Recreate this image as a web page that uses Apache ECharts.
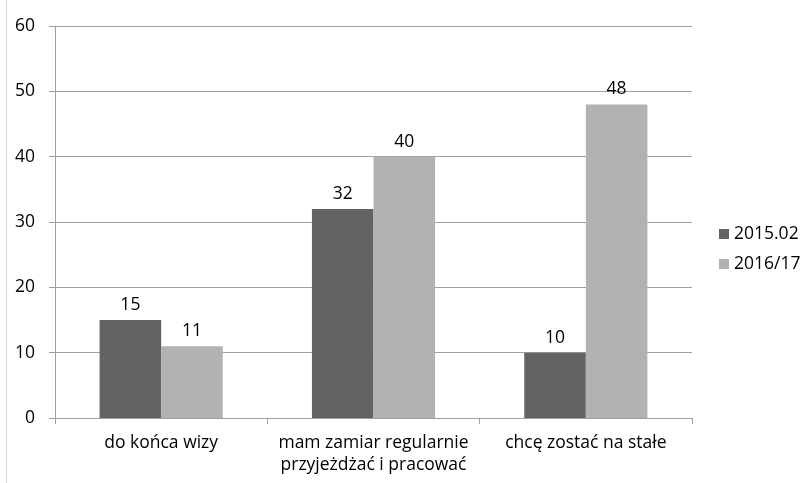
<!DOCTYPE html>
<html><head><meta charset="utf-8">
<script src="https://cdn.jsdelivr.net/npm/echarts@6/dist/echarts.min.js"></script>
<style>html,body{margin:0;padding:0;background:#fff}#c{width:806px;height:483px}</style>
</head><body><div id="c"></div>
<script>
const categories = ['do końca wizy', 'mam zamiar regularnie\nprzyjeżdżać i pracować', 'chcę zostać na stałe'];
const seriesNames = ['2015.02', '2016/17'];
const values2015 = [15, 32, 10];
const values2016 = [11, 40, 48];
const FONT = '"Open Sans", "Noto Sans", sans-serif';
const FS = 17.5;
const chart = echarts.init(document.getElementById('c'));
chart.setOption({
  animation: false,
  textStyle: { fontFamily: FONT },
  graphic: [{ type: 'line', shape: { x1: 6.5, y1: 0, x2: 6.5, y2: 483 }, style: { stroke: '#d9d9d9', lineWidth: 1 } }],
  grid: { left: 55, right: 114, top: 26, bottom: 65 },
  legend: {
    orient: 'vertical', left: 714, top: 220, itemWidth: 10, itemHeight: 10, itemGap: 12,
    icon: 'rect', textStyle: { fontSize: FS, color: '#000', fontFamily: FONT },
    data: seriesNames
  },
  xAxis: {
    type: 'category', data: categories,
    axisLine: { lineStyle: { color: '#a0a0a0' } },
    axisTick: { show: true, length: 6, lineStyle: { color: '#a0a0a0' } },
    axisLabel: { interval: 0, fontSize: FS, color: '#000', margin: 14, lineHeight: 22, fontFamily: FONT }
  },
  yAxis: {
    type: 'value', min: 0, max: 60, interval: 10,
    axisLine: { show: true, lineStyle: { color: '#a0a0a0' } },
    axisTick: { show: true, length: 6, lineStyle: { color: '#a0a0a0' } },
    splitLine: { lineStyle: { color: '#a0a0a0' } },
    axisLabel: { fontSize: FS, color: '#000', margin: 20, fontFamily: FONT }
  },
  series: [
    { name: seriesNames[0], type: 'bar', data: values2015, barGap: '0%', barCategoryGap: '42%',
      itemStyle: { color: '#636363' },
      label: { show: true, position: 'top', fontSize: FS, color: '#000', distance: 6, fontFamily: FONT } },
    { name: seriesNames[1], type: 'bar', data: values2016, barGap: '0%', barCategoryGap: '42%',
      itemStyle: { color: '#b2b2b2' },
      label: { show: true, position: 'top', fontSize: FS, color: '#000', distance: 6, fontFamily: FONT } }
  ]
});
</script></body></html>
